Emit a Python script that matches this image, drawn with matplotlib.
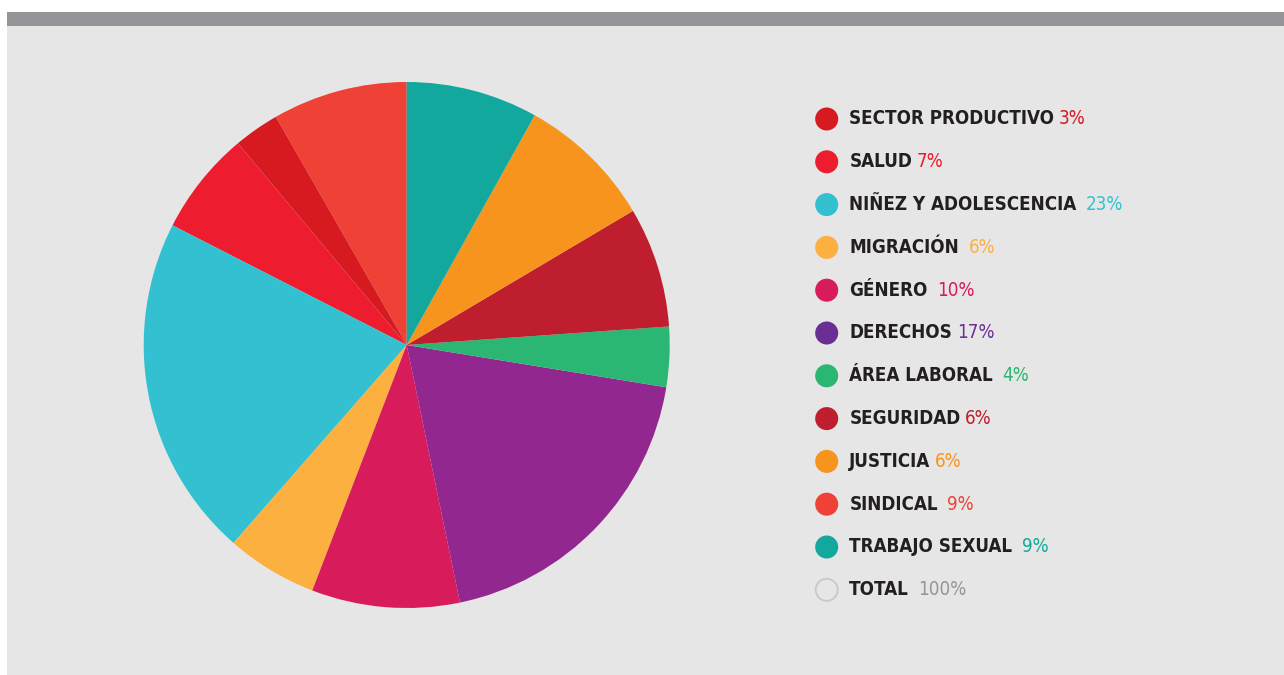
import matplotlib
matplotlib.use("Agg")
import matplotlib.pyplot as plt
from matplotlib.patches import Rectangle

# ---- data (legend order) ----
categories = ["SECTOR PRODUCTIVO", "SALUD", "NIÑEZ Y ADOLESCENCIA", "MIGRACIÓN",
              "GÉNERO", "DERECHOS", "ÁREA LABORAL", "SEGURIDAD", "JUSTICIA",
              "SINDICAL", "TRABAJO SEXUAL"]
pct_labels = [3, 7, 23, 6, 10, 17, 4, 6, 6, 9, 9]          # printed percentages
slice_shares = [2.8, 6.4, 21.1, 5.6, 9.1, 19.2, 3.7, 7.4, 8.4, 8.3, 8.1]  # slice sizes as drawn
total_label = "TOTAL"
total_pct = 100
# order of slices counter-clockwise from 12 o'clock (indices into categories)
pie_order = [9, 0, 1, 2, 3, 4, 5, 6, 7, 8, 10]

colors = ["#d71920", "#ed1c2e", "#33c1d1", "#fbb040", "#d81b5a", "#92278f",
          "#2bb673", "#be1e2d", "#f7941d", "#ef4136", "#13a89e"]
legend_colors = list(colors)
legend_colors[5] = "#6b2f93"
gap_spaces = [1, 1, 2, 2, 2, 1, 2, 1, 1, 2, 2]
total_gap = 2

W, H = 1284, 675
fig = plt.figure(figsize=(W / 100, H / 100), dpi=100, facecolor="white")

# background overlay axes in pixel coords
bg = fig.add_axes([0, 0, 1, 1])
bg.set_xlim(0, W)
bg.set_ylim(H, 0)
bg.axis("off")
bg.add_patch(Rectangle((7, 26), W - 7, H - 26, facecolor="#e6e6e6", edgecolor="none", zorder=0))
bg.add_patch(Rectangle((7, 12), W - 7, 14, facecolor="#939598", edgecolor="none", zorder=0))

# pie axes
cx, cy, r = 406.7, 345, 263
pax = fig.add_axes([(cx - r) / W, (H - cy - r) / H, 2 * r / W, 2 * r / H])
pax.pie([slice_shares[i] for i in pie_order],
        colors=[colors[i] for i in pie_order],
        startangle=90, counterclock=True, radius=1,
        wedgeprops=dict(linewidth=0))
pax.set_xlim(-1, 1)
pax.set_ylim(-1, 1)
pax.set_aspect("equal")
pax.axis("off")

# legend
font = ["DejaVu Sans"]
dot_x, text_x = 826.7, 849.3
y0, dy = 119, 42.8
fs = 13.5
n = len(categories)
rows_y = [y0 + k * dy for k in range(n + 1)]

bg.scatter([dot_x] * n, rows_y[:n], s=23 ** 2 * 0.52, c=legend_colors, edgecolors="none", zorder=3)
bg.scatter([dot_x], [rows_y[n]], s=22 ** 2 * 0.52, facecolors="none", edgecolors="#c8c8c8",
           linewidths=1.3, zorder=3)

fig.canvas.draw()
renderer = fig.canvas.get_renderer()
sp = bg.text(0, 0, " ", fontsize=fs, family=font, fontweight="bold", fontstretch="condensed")
space_w = sp.get_window_extent(renderer).width
sp.remove()

labels_all = categories + [total_label]
pcts_all = pct_labels + [total_pct]
gaps_all = gap_spaces + [total_gap]
pcol_all = legend_colors + ["#939598"]
for k in range(n + 1):
    t = bg.text(text_x, rows_y[k], labels_all[k], fontsize=fs, family=font, fontweight="bold",
                fontstretch="condensed", color="#231f20", va="center", ha="left", zorder=4)
    ext = t.get_window_extent(renderer)
    xend = ext.x1 + gaps_all[k] * space_w * 0.8
    bg.text(xend, rows_y[k], f"{pcts_all[k]}%", fontsize=fs, family=font, fontweight="normal",
            fontstretch="condensed", color=pcol_all[k], va="center", ha="left", zorder=4)

fig.savefig("out.png", dpi=100, facecolor="white")
